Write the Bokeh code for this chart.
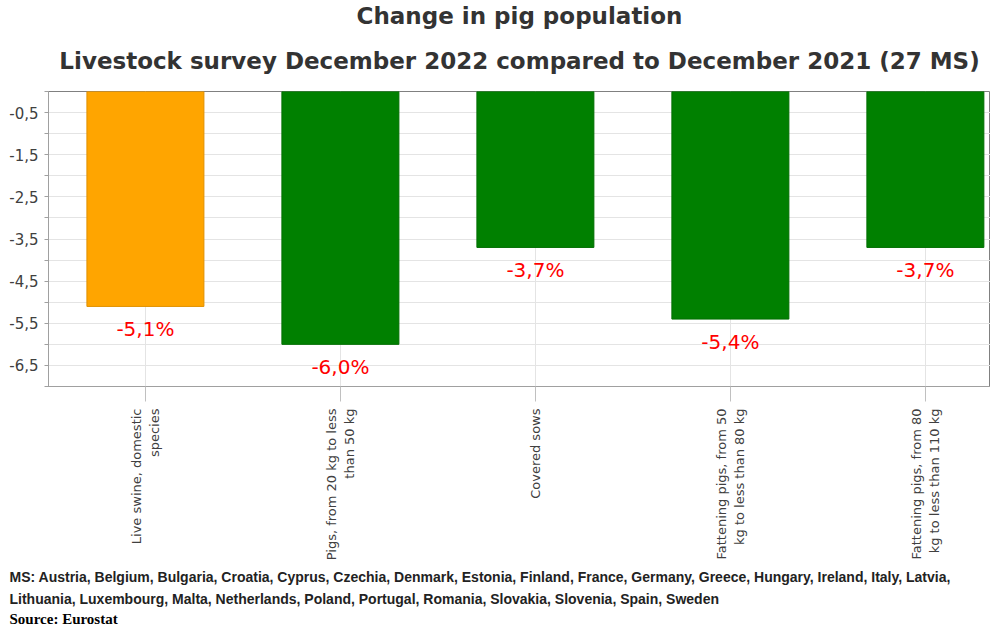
import math
from bokeh.plotting import figure
from bokeh.models import FixedTicker, Title, ColumnDataSource, Range1d
from bokeh.embed import file_html
from bokeh.resources import INLINE

# ---- data ----
categories = [
    "Live swine, domestic\nspecies",
    "Pigs, from 20 kg to less\nthan 50 kg",
    "Covered sows",
    "Fattening pigs, from 50\nkg to less than 80 kg",
    "Fattening pigs, from 80\nkg to less than 110 kg",
]
values = [-5.1, -6.0, -3.7, -5.4, -3.7]
bar_colors = ["#FFA500", "#008000", "#008000", "#008000", "#008000"]
outline_colors = ["#E09000", "#006E00", "#006E00", "#006E00", "#006E00"]
y_major = [-0.5, -1.5, -2.5, -3.5, -4.5, -5.5, -6.5]
y_major_labels = ["-0,5", "-1,5", "-2,5", "-3,5", "-4,5", "-5,5", "-6,5"]
y_minor = [0, -1, -2, -3, -4, -5, -6, -7]
title_line1 = "Change in pig population"
title_line2 = "Livestock survey December 2022 compared to December 2021 (27 MS)"
ms_line1 = ("MS: Austria, Belgium, Bulgaria, Croatia, Cyprus, Czechia, Denmark, Estonia, Finland, France, "
            "Germany, Greece, Hungary, Ireland, Italy, Latvia,")
ms_line2 = "Lithuania, Luxembourg, Malta, Netherlands, Poland, Portugal, Romania, Slovakia, Slovenia, Spain, Sweden"
source_text = "Source: Eurostat"

xs = list(range(len(categories)))
data_labels = [f"{v:.1f}".replace(".", ",") + "%" for v in values]

src = ColumnDataSource(dict(x=xs, v=values, c=bar_colors, lc=outline_colors, lab=data_labels))

p = figure(width=990, height=628, title=None,
           x_range=Range1d(-0.497, 4.334), y_range=Range1d(-7, 0),
           output_backend="svg", toolbar_location=None,
           min_border_left=48, min_border_right=0, min_border_top=0, min_border_bottom=0)

tt2 = Title(text=title_line2, align="center", text_font="DejaVu Sans",
            text_font_size="23px", text_font_style="bold", text_color="#333333",
            standoff=35, offset=-8)
tt1 = Title(text=title_line1, align="center", text_font="DejaVu Sans",
            text_font_size="23px", text_font_style="bold", text_color="#333333",
            standoff=0, offset=-8, text_line_height=0.85)
p.add_layout(tt2, "above")
p.add_layout(tt1, "above")

p.vbar(x="x", width=0.6, top=0, bottom="v", fill_color="c", line_color="lc",
       line_width=1, source=src)

p.text(x="x", y="v", text="lab", source=src, text_align="center",
       text_baseline="middle", y_offset=23, text_color="#FF0000",
       text_font_size="20px", text_font={"value": "DejaVu Sans"})

# y axis
p.yaxis.ticker = FixedTicker(ticks=y_major, minor_ticks=y_minor)
p.yaxis.major_label_overrides = {t: l for t, l in zip(y_major, y_major_labels)}
p.yaxis.major_label_text_font = "DejaVu Sans"
p.yaxis.major_label_text_font_size = "15px"
p.yaxis.major_label_text_color = "#404040"
p.yaxis.axis_line_color = "#A0A0A0"
p.yaxis.major_tick_line_color = "#A0A0A0"
p.yaxis.minor_tick_line_color = "#A0A0A0"
p.yaxis.major_tick_out = 4
p.yaxis.major_tick_in = 0
p.yaxis.minor_tick_out = 4
p.yaxis.minor_tick_in = 0
p.yaxis.major_label_standoff = 6

# x axis
p.xaxis.ticker = FixedTicker(ticks=xs)
p.xaxis.major_label_overrides = {x: c for x, c in zip(xs, categories)}
p.xaxis.major_label_orientation = math.pi / 2
p.xaxis.major_label_text_font = "DejaVu Sans"
p.xaxis.major_label_text_font_size = "13px"
p.xaxis.major_label_text_color = "#404040"
p.xaxis.axis_line_color = "#A0A0A0"
p.xaxis.major_tick_line_color = "#C0C0C0"
p.xaxis.major_tick_out = 15
p.xaxis.major_tick_in = 0
p.xaxis.minor_tick_line_color = None
p.xaxis.major_label_standoff = 7

# grids
p.ygrid.grid_line_color = "#E4E4E4"
p.ygrid.minor_grid_line_color = "#E4E4E4"
p.xgrid.grid_line_color = "#E4E4E4"
p.outline_line_color = "#808080"
p.background_fill_color = "white"
p.border_fill_color = "white"

# footer
t1 = Title(text=ms_line1, align="left", offset=-39, text_font="Liberation Sans",
           text_font_size="14px", text_font_style="bold", text_color="#222222", standoff=6)
t2 = Title(text=ms_line2, align="left", offset=-39, text_font="Liberation Sans",
           text_font_size="14px", text_font_style="bold", text_color="#222222", standoff=2)
t3 = Title(text=source_text, align="left", offset=-39, text_font="Liberation Serif",
           text_font_size="15px", text_font_style="bold", text_color="#000000", standoff=3)
p.add_layout(t1, "below")
p.add_layout(t2, "below")
p.add_layout(t3, "below")

open("out.html", "w").write(file_html(p, INLINE))
